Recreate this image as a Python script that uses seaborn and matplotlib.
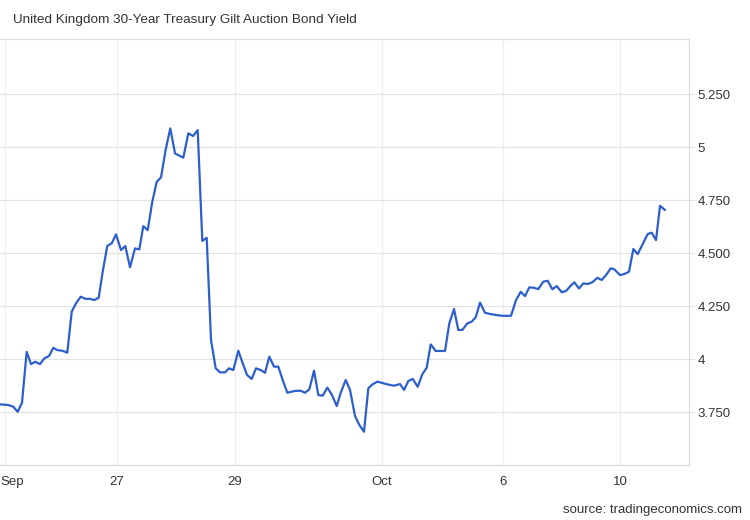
import numpy as np
import pandas as pd
import matplotlib
matplotlib.use('Agg')
import matplotlib.pyplot as plt
import matplotlib.transforms as mtransforms
import seaborn as sns

# position of each observation along the chart's time axis (trading-session index)
obs_x = [0, 8.3, 13.3, 17.7, 22, 26.7, 31, 35.3, 40, 44.3, 49, 53.3, 57.3, 62.3, 67.3,
         71.7, 76, 80.7, 85.3, 90, 94.3, 98.7, 102.7, 107.3, 111.7, 116, 121, 125.3, 130,
         135, 139.3, 143.3, 147.7, 152.3, 156.7, 161, 165.7, 170.3, 175, 183.3, 188.3, 193,
         197.7, 202.3, 206.7, 211, 215.7, 220, 225, 229, 233.3, 238.3, 242.7, 247, 251.7,
         256, 260.7, 265, 269.3, 274, 278.3, 282.7, 287.3, 291.7, 296, 300.7, 305, 309.3,
         314, 318.3, 322.7, 327.3, 331.7, 336.7, 340.7, 345.7, 350, 355, 359.3, 364, 368.3,
         372.7, 377.3, 381.7, 386.7, 394, 400, 404, 408.3, 412.7, 417.7, 422.3, 426.7, 430.7,
         435.7, 440, 445, 449.3, 454, 458.3, 462.3, 467.3, 471.7, 475.7, 480, 485, 491.7,
         501.7, 511, 516, 520.7, 525, 529.3, 534, 538.3, 543.3, 547.7, 552.3, 556.7, 561.7,
         566, 570.7, 574.3, 579, 583.3, 587.7, 592.3, 597.3, 601.7, 606, 610.7, 614.3, 620,
         624.3, 629, 633.3, 637.7, 642.7, 647.7, 651.7, 656, 660, 665]

yield_values = [3.786, 3.783, 3.775, 3.751, 3.794, 4.034, 3.976, 3.987, 3.976, 4.003, 4.014,
                4.053, 4.042, 4.039, 4.030, 4.223, 4.263, 4.294, 4.284, 4.284, 4.278, 4.289,
                4.412, 4.534, 4.546, 4.588, 4.514, 4.533, 4.433, 4.522, 4.517, 4.627, 4.608,
                4.742, 4.836, 4.857, 4.989, 5.088, 4.970, 4.950, 5.065, 5.052, 5.080, 4.557,
                4.572, 4.090, 3.956, 3.937, 3.937, 3.956, 3.948, 4.039, 3.980, 3.925, 3.906,
                3.956, 3.948, 3.935, 4.011, 3.964, 3.964, 3.901, 3.841, 3.846, 3.850, 3.850,
                3.841, 3.857, 3.945, 3.830, 3.827, 3.865, 3.833, 3.778, 3.841, 3.901, 3.854,
                3.731, 3.689, 3.657, 3.862, 3.881, 3.893, 3.888, 3.881, 3.874, 3.882, 3.854,
                3.896, 3.906, 3.869, 3.928, 3.959, 4.069, 4.038, 4.038, 4.038, 4.168, 4.236,
                4.137, 4.137, 4.168, 4.176, 4.197, 4.266, 4.218, 4.211, 4.204, 4.204, 4.278,
                4.317, 4.297, 4.338, 4.336, 4.330, 4.365, 4.369, 4.329, 4.344, 4.315, 4.321,
                4.346, 4.362, 4.333, 4.357, 4.354, 4.362, 4.383, 4.373, 4.396, 4.428, 4.423,
                4.396, 4.401, 4.412, 4.519, 4.495, 4.542, 4.590, 4.596, 4.561, 4.723, 4.703]

x_tick_pos = [5, 117, 235, 382, 503, 620]
x_tick_labels = ['Sep', '27', '29', 'Oct', '6', '10']
y_tick_pos = [3.75, 4.0, 4.25, 4.5, 4.75, 5.0, 5.25]
y_tick_labels = ['3.750', '4', '4.250', '4.500', '4.750', '5', '5.250']

df = pd.DataFrame({'obs': obs_x, 'yield': yield_values})

sns.set_style('white')
plt.rcParams['font.family'] = ['Liberation Sans', 'DejaVu Sans']

text_col = '#333333'

fig = plt.figure(figsize=(7.5, 5.2), dpi=100)
ax = fig.add_axes([0.0, 0.1058, 0.9187, 0.8192])

sns.lineplot(data=df, x='obs', y='yield', color='#2d5fcc', linewidth=1.6, ax=ax)

ax.set_xlim(0, 689)
ax.set_ylim(3.5, 5.51)
ax.set_xticks(x_tick_pos)
ax.set_xticklabels(x_tick_labels)
ax.set_yticks(y_tick_pos)
ax.set_yticklabels(y_tick_labels)
ax.yaxis.tick_right()
ax.set_xlabel('')
ax.set_ylabel('')

# horizontal grid a bit stronger than the vertical one
ax.grid(True, axis='y', color='#e3e3e3', linewidth=0.9)
ax.grid(True, axis='x', color='#efefef', linewidth=0.9)
ax.tick_params(axis='y', length=4, color='#e3e3e3', labelsize=9.5, labelcolor=text_col, pad=2)
ax.tick_params(axis='x', length=0, labelsize=9.5, labelcolor=text_col, pad=8)

for side in ['top', 'right', 'bottom']:
    ax.spines[side].set_color('#dddddd')
    ax.spines[side].set_linewidth(0.9)
ax.spines['left'].set_visible(False)

# first month label sits flush with the left edge
first = ax.get_xticklabels()[0]
first.set_ha('left')
first.set_transform(first.get_transform() + mtransforms.ScaledTranslation(-5 / 100, 0, fig.dpi_scale_trans))

fig.text(13 / 750, 1 - 20 / 520, 'United Kingdom 30-Year Treasury Gilt Auction Bond Yield',
         fontsize=9.7, color=text_col, ha='left', va='center')
fig.text(742 / 750, 1 - 510 / 520, 'source: tradingeconomics.com',
         fontsize=9.5, color=text_col, ha='right', va='center')

fig.savefig('out.png', dpi=100, facecolor='white')
